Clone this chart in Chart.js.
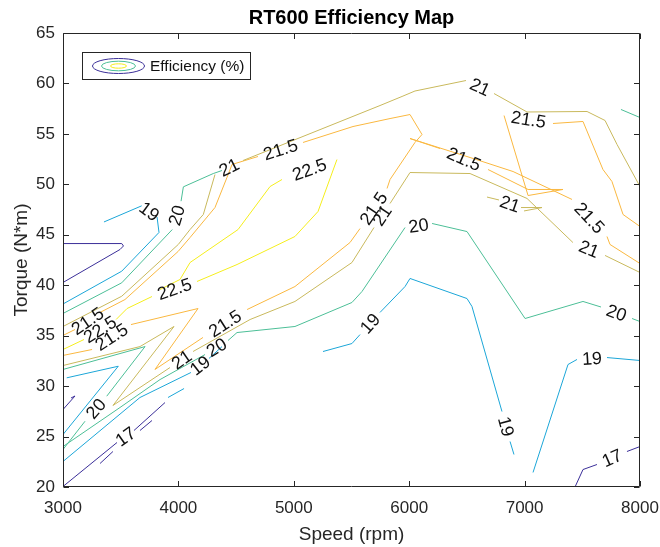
<!DOCTYPE html>
<html>
<head>
<meta charset="utf-8">
<script src="https://cdn.jsdelivr.net/npm/chart.js@4.4.1/dist/chart.umd.min.js"></script>
<style>
  html, body { margin: 0; padding: 0; background: #fff; }
  #wrap { width: 660px; height: 547px; }
</style>
</head>
<body>
<div id="wrap"><canvas id="c" width="660" height="547"></canvas></div>
<script>
// Efficiency levels (%) of the contour lines
const levels = [17, 19, 20, 21, 21.5, 22.5];

// Tick values
const speedTicks = [3000, 4000, 5000, 6000, 7000, 8000];
const torqueTicks = [20, 25, 30, 35, 40, 45, 50, 55, 60, 65];

// Contour pieces per level as [speed (rpm), torque (N*m)] vertices.
// A null marks a break in the line where the level's label sits.
const contour17 = [
  [[3000, 44.13], [3509, 44.13], [3524, 43.89], [3494, 43.54], [3000, 40.27]],
  [[3000, 27.68], [3104, 29.02], [3069, 28.82]],
  [[3000, 20.05], [3468, 24.41], null, [3615, 25.60], [3884, 28.37]],
  [[3321, 22.33], [3433, 23.52]],
  [[3667, 25.60], [3771, 26.59]],
  [[7437, 20.0], [7506, 21.73], [7627, 22.23], null, [7887, 23.52], [8000, 24.01]]
];

const contour19 = [
  [[3355, 46.27], [3682, 47.87], null, [3815, 46.76], [3832, 45.23], [3509, 41.39], [3000, 38.14]],
  [[3032, 30.82], [3479, 31.97], [3000, 25.20]],
  [[3000, 22.53], [3667, 28.87], [4109, 31.35], null, [4265, 32.74], [4378, 33.92]],
  [[3910, 28.87], [4049, 29.76]],
  [[5253, 33.43], [5504, 34.22], [5574, 35.11], null, [5747, 37.30], [5964, 39.87], [6007, 40.67],
   [6501, 38.68], [6544, 37.89], [6804, 27.48], null, [6874, 24.51], [6908, 23.22]],
  [[7073, 21.44], [7376, 32.14], [7454, 32.64], null, [7714, 32.83], [8000, 32.54]]
];

const contour20 = [
  [[3000, 37.20], [3509, 40.24], [3947, 45.52], null, [4023, 48.33], [4043, 49.75], [4302, 51.07], [4378, 51.37]],
  [[3000, 31.65], [3711, 33.92], [3379, 29.00], null, [3191, 26.52], [3000, 23.72]],
  [[3000, 24.01], [3494, 27.88], [3841, 30.65], [4231, 33.13], null, [4430, 34.52], [4508, 35.31],
   [5010, 35.91], [5504, 38.29], [5591, 39.38], [5964, 45.72], null, [6198, 46.12], [6501, 45.32],
   [7004, 36.70], [7506, 38.39], [7662, 37.84], null, [7931, 36.70], [8000, 36.40]],
  [[7835, 57.42], [8000, 56.62]]
];

const contour21 = [
  [[3000, 35.91], [3509, 38.91], [3999, 44.04], [4101, 45.52], [4216, 47.01], [4317, 50.97], null,
   [4560, 52.36], [5747, 57.81], [5938, 58.71], [6050, 59.25], [6492, 60.29], null, [6735, 59.00],
   [7021, 57.17], [7541, 57.22], [7697, 56.33], [7801, 53.95], [8000, 49.78]],
  [[3000, 32.04], [3667, 33.92], [3962, 35.91], [3433, 28.08], [3927, 31.84], null, [4127, 33.43],
   [4621, 36.60], [5010, 38.39], [5504, 42.25], [5695, 45.72], null, [5834, 48.10], [6007, 51.17],
   [6527, 51.07], [7021, 48.60], [7419, 44.23], null, [7697, 42.95], [8000, 41.26]],
  [[6674, 48.74], [6778, 48.45], null, [6969, 47.70], [7151, 47.70], [6995, 47.36]]
];

const contour21_5 = [
  [[3000, 35.02], [3104, 35.61], null, [3321, 37.30], [3537, 38.58], [3997, 43.34], [4101, 44.73],
   [4317, 47.70], [4421, 50.68], [4465, 51.97], [4690, 52.76], null, [5080, 54.15], [5513, 55.73],
   [5834, 56.52], [6007, 56.92], [6111, 54.94], [6050, 54.15], [5834, 50.48], [5808, 49.59], null,
   [5574, 45.62], [5487, 44.23], [5010, 39.87], [4595, 37.59], null, [4213, 34.82], [3797, 31.65],
   [4170, 37.69], [3589, 36.10], null, [3252, 33.63], [3000, 33.04]],
  [[6007, 54.54], [6267, 53.55], null, [6683, 51.47], [7030, 49.49], [7333, 49.49], [7030, 48.89],
   [6822, 56.82], null, [7246, 56.03], [7506, 56.23], [7679, 51.47], [7757, 50.28], [7853, 47.01], [8000, 45.82]],
  [[6007, 54.54], [6527, 52.66], [6900, 51.27], [7411, 48.50], null, [7714, 44.83], [7740, 44.04], [8000, 42.15]]
];

const contour22_5 = [
  [[3000, 33.63], [3182, 34.62], null, [3460, 36.60], [3555, 37.69], [3771, 38.88], null, [4161, 40.37],
   [4508, 42.05], [5010, 44.83], [5210, 47.31], [5374, 52.46], null, [4898, 50.48], [4794, 49.78],
   [4517, 45.52], [4101, 42.25], [4014, 40.57], [3841, 39.58]]
];

const contoursByLevel = [contour17, contour19, contour20, contour21, contour21_5, contour22_5];
const levelColors = ['#3b2f99', '#1ba6d8', '#4cbf97', '#c9b95c', '#fab840', '#f5ee1c'];

const FONT = '"Liberation Sans", Arial, Helvetica, sans-serif';
const INK = '#262626';

// One scatter dataset per contour piece; null vertices become gaps
const datasets = [];
contoursByLevel.forEach((pieces, li) => {
  pieces.forEach(piece => {
    const pts = [];
    piece.forEach((p, i) => {
      if (p === null) {
        const prev = piece[i - 1];
        pts.push({ x: prev[0], y: null });
      } else {
        pts.push({ x: p[0], y: p[1] });
      }
    });
    datasets.push({
      level: levels[li],
      data: pts,
      showLine: true,
      spanGaps: false,
      borderColor: levelColors[li],
      borderWidth: 1,
      pointRadius: 0,
      pointHoverRadius: 0,
      tension: 0,
      fill: false
    });
  });
});

// Axes box with inward ticks on all four sides
const framePlugin = {
  id: 'frame',
  afterDatasetsDraw(chart) {
    const { ctx, chartArea: a, scales } = chart;
    const L = Math.round(a.left) + 0.5, R = Math.round(a.right) - 0.5;
    const T = Math.round(a.top) + 0.5, B = Math.round(a.bottom) - 0.5;
    const len = 5.5;
    ctx.save();
    ctx.strokeStyle = INK;
    ctx.lineWidth = 1;
    ctx.beginPath();
    ctx.rect(L, T, R - L, B - T);
    speedTicks.forEach(v => {
      const x = Math.round(scales.x.getPixelForValue(v)) + 0.5;
      ctx.moveTo(x, B); ctx.lineTo(x, B - len);
      ctx.moveTo(x, T); ctx.lineTo(x, T + len);
    });
    torqueTicks.forEach(v => {
      const y = Math.round(scales.y.getPixelForValue(v)) + 0.5;
      ctx.moveTo(L, y); ctx.lineTo(L + len, y);
      ctx.moveTo(R, y); ctx.lineTo(R - len, y);
    });
    ctx.stroke();
    ctx.restore();
  }
};

// Level labels placed in each gap, aligned with the line direction
const labelPlugin = {
  id: 'contourLabels',
  afterDatasetsDraw(chart) {
    const { ctx, scales } = chart;
    ctx.save();
    ctx.fillStyle = '#111';
    ctx.font = '18px ' + FONT;
    ctx.textAlign = 'center';
    ctx.textBaseline = 'middle';
    chart.data.datasets.forEach(ds => {
      const d = ds.data;
      for (let i = 1; i < d.length - 1; i++) {
        if (d[i].y !== null) continue;
        const a = d[i - 1], b = d[i + 1];
        const ax = scales.x.getPixelForValue(a.x), ay = scales.y.getPixelForValue(a.y);
        const bx = scales.x.getPixelForValue(b.x), by = scales.y.getPixelForValue(b.y);
        let ang = Math.atan2(by - ay, bx - ax);
        if (ang > Math.PI / 2) ang -= Math.PI;
        if (ang < -Math.PI / 2) ang += Math.PI;
        ctx.save();
        ctx.translate((ax + bx) / 2, (ay + by) / 2);
        ctx.rotate(ang);
        ctx.fillText(String(ds.level), 0, 1);
        ctx.restore();
      }
    });
    ctx.restore();
  }
};

// Legend box with a small nested-contour glyph
const legendPlugin = {
  id: 'contourLegend',
  afterDraw(chart) {
    const { ctx } = chart;
    const x0 = 82.5, y0 = 52.5, w = 168, h = 27;
    ctx.save();
    ctx.fillStyle = '#fff';
    ctx.fillRect(x0, y0, w, h);
    ctx.strokeStyle = INK;
    ctx.lineWidth = 1;
    ctx.strokeRect(x0, y0, w, h);
    const cx = 118.5, cy = 66;
    const rings = [[26, 7.5, levelColors[0]], [17, 4.8, levelColors[2]], [8, 2.2, levelColors[5]]];
    rings.forEach(([rx, ry, col]) => {
      ctx.beginPath();
      ctx.ellipse(cx, cy, rx, ry, 0, 0, Math.PI * 2);
      ctx.strokeStyle = col;
      ctx.lineWidth = 1;
      ctx.stroke();
    });
    ctx.fillStyle = '#111';
    ctx.font = '15.5px ' + FONT;
    ctx.textAlign = 'left';
    ctx.textBaseline = 'middle';
    ctx.fillText('Efficiency (%)', 150, 66.5);
    ctx.restore();
  }
};

new Chart(document.getElementById('c'), {
  type: 'scatter',
  data: { datasets },
  options: {
    responsive: false,
    maintainAspectRatio: false,
    animation: false,
    devicePixelRatio: 1,
    layout: { padding: { left: 0, right: 20, top: 0, bottom: 0 } },
    events: [],
    plugins: {
      legend: { display: false },
      tooltip: { enabled: false },
      title: {
        display: true,
        fullSize: false,
        text: 'RT600 Efficiency Map',
        color: '#000',
        font: { family: FONT, size: 20, weight: 'bold', lineHeight: 1.2 },
        padding: { top: 6, bottom: 3 }
      }
    },
    scales: {
      x: {
        type: 'linear',
        min: 3000,
        max: 8000,
        afterBuildTicks: s => { s.ticks = speedTicks.map(v => ({ value: v })); },
        afterFit: s => { s.height = 60; s.paddingLeft = 0; s.paddingRight = 0; },
        grid: { display: false, drawTicks: false },
        border: { display: false },
        ticks: {
          color: INK,
          font: { family: FONT, size: 17, lineHeight: 1.2 },
          padding: 10.8,
          maxRotation: 0,
          autoSkip: false,
          callback: v => String(v)
        },
        title: {
          display: true,
          text: 'Speed (rpm)',
          color: INK,
          font: { family: FONT, size: 19, lineHeight: 1.2 },
          padding: { top: 0, bottom: 0.6 }
        }
      },
      y: {
        type: 'linear',
        min: 20,
        max: 65,
        afterBuildTicks: s => { s.ticks = torqueTicks.map(v => ({ value: v })); },
        afterFit: s => { s.width = 63; s.paddingTop = 0; s.paddingBottom = 0; },
        grid: { display: false, drawTicks: false },
        border: { display: false },
        ticks: {
          color: INK,
          font: { family: FONT, size: 17, lineHeight: 1.2 },
          padding: 8,
          autoSkip: false,
          callback: v => String(v)
        },
        title: {
          display: true,
          text: 'Torque (N*m)',
          color: INK,
          font: { family: FONT, size: 19, lineHeight: 1.2 },
          padding: { top: 10.6, bottom: 0 }
        }
      }
    }
  },
  plugins: [framePlugin, labelPlugin, legendPlugin]
});
</script>
</body>
</html>
